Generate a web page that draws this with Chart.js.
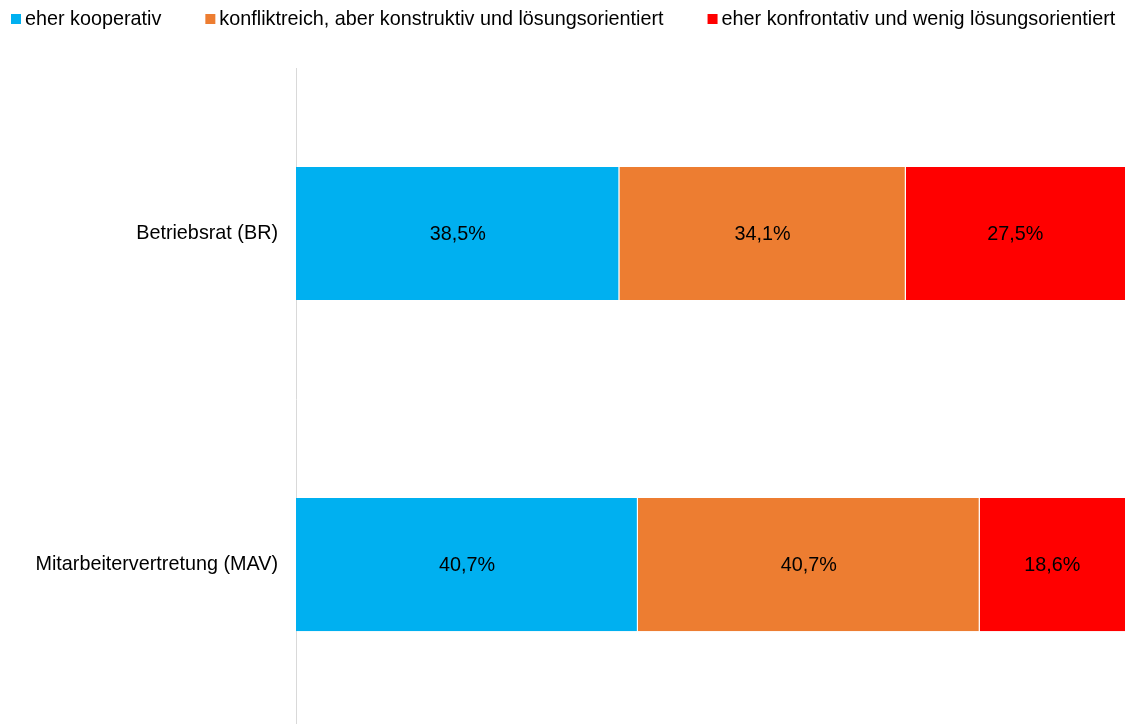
<!DOCTYPE html>
<html>
<head>
<meta charset="utf-8">
<script src="https://cdn.jsdelivr.net/npm/chart.js@4/dist/chart.umd.min.js"></script>
<style>
    html, body { margin: 0; padding: 0; background: #fff; overflow: hidden; }
    canvas { display: block; }
</style>
</head>
<body>
<canvas id="chart" width="1125" height="760"></canvas>
<script>
;(function () {
    'use strict';

    var categories   = ['Betriebsrat (BR)', 'Mitarbeitervertretung (MAV)'];
    var seriesNames  = [
        'eher kooperativ',
        'konfliktreich, aber konstruktiv und lösungsorientiert',
        'eher konfrontativ und wenig lösungsorientiert'
    ];
    var kooperativ   = [38.5, 40.7];
    var konstruktiv  = [34.1, 40.7];
    var konfrontativ = [27.5, 18.6];
    var colors       = ['#00B0F0', '#ED7D31', '#FF0000'];

    var FONT = '"Liberation Sans", Arial, sans-serif';
    var SIZE = 19.8;

    function fmt(v) {
        return v.toFixed(1).replace('.', ',') + '%';
    }

    // legend drawn on top of the canvas, small squares + text
    var legendPlugin = {
        id: 'topLegend',
        afterDraw: function (chart) {
            var ctx = chart.ctx;
            var x = 11;
            ctx.save();
            ctx.font = SIZE + 'px ' + FONT;
            ctx.textBaseline = 'middle';
            ctx.textAlign = 'left';
            chart.data.datasets.forEach(function (ds) {
                ctx.fillStyle = ds.backgroundColor;
                ctx.fillRect(x, 14, 10, 10);
                ctx.fillStyle = '#000';
                ctx.fillText(ds.label, x + 14, 20);
                x += 14 + ctx.measureText(ds.label).width + 44;
            });
            ctx.restore();
        }
    };

    // value labels in the middle of the visible part of each segment
    var valuePlugin = {
        id: 'values',
        afterDatasetsDraw: function (chart) {
            var ctx = chart.ctx;
            var area = chart.chartArea;
            ctx.save();
            ctx.font = SIZE + 'px ' + FONT;
            ctx.fillStyle = '#000';
            ctx.textAlign = 'center';
            ctx.textBaseline = 'middle';
            chart.data.datasets.forEach(function (ds, i) {
                chart.getDatasetMeta(i).data.forEach(function (bar, j) {
                    var l = Math.max(Math.min(bar.base, bar.x), area.left);
                    var r = Math.min(Math.max(bar.base, bar.x), area.right);
                    ctx.fillText(fmt(ds.data[j]), (l + r) / 2, bar.y + 1);
                });
            });
            ctx.restore();
        }
    };

    function makeSet(label, data, color) {
        return {
            label: label,
            data: data,
            backgroundColor: color,
            borderColor: '#ffffff',
            borderWidth: { top: 0, left: 0, bottom: 0, right: 1 },
            borderSkipped: false,
            categoryPercentage: 1,
            barPercentage: 0.402
        };
    }

    new Chart(document.getElementById('chart'), {
        type: 'bar',
        data: {
            labels: categories,
            datasets: [
                makeSet(seriesNames[0], kooperativ, colors[0]),
                makeSet(seriesNames[1], konstruktiv, colors[1]),
                makeSet(seriesNames[2], konfrontativ, colors[2])
            ]
        },
        options: {
            indexAxis: 'y',
            responsive: false,
            animation: false,
            devicePixelRatio: 1,
            layout: {
                padding: { top: 68, left: 0, right: 0, bottom: 0 }
            },
            plugins: {
                legend: { display: false },
                tooltip: { enabled: false }
            },
            scales: {
                x: {
                    stacked: true,
                    display: false,
                    min: 0,
                    max: 98.7
                },
                y: {
                    stacked: true,
                    grid: { display: false, drawTicks: false },
                    border: { display: true, color: '#d9d9d9', width: 1 },
                    ticks: {
                        color: '#000',
                        padding: 18,
                        font: { family: FONT, size: SIZE }
                    },
                    afterFit: function (scale) {
                        scale.width = 296;
                    }
                }
            }
        },
        plugins: [legendPlugin, valuePlugin]
    });
})();
</script>
</body>
</html>
